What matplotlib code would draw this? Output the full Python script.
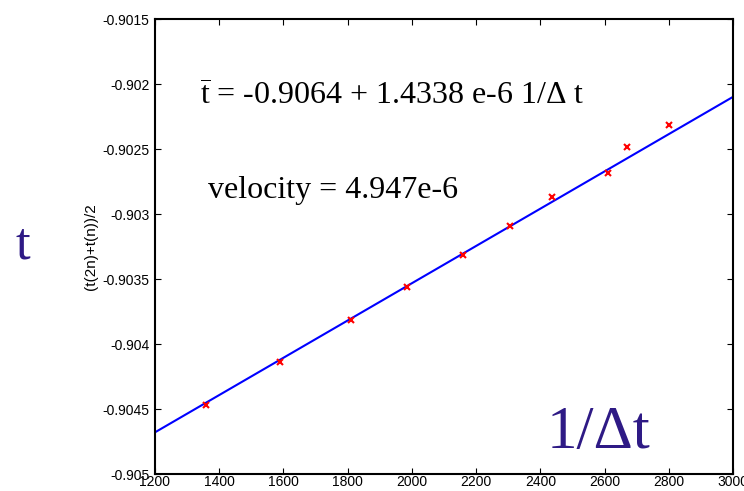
import numpy as np
import matplotlib
matplotlib.use('Agg')
from matplotlib import pyplot as plt

plt.rcParams['mathtext.fontset'] = 'custom'
plt.rcParams['mathtext.rm'] = 'Liberation Serif'
plt.rcParams['font.family'] = 'Liberation Sans'

# measured points (1/dt, mean time)
inv_dt = [1360, 1590, 1810, 1985, 2160, 2305, 2435, 2610, 2670, 2800]
t_mean = [-0.90447, -0.904138, -0.903815, -0.903562, -0.903315,
          -0.903092, -0.902869, -0.902685, -0.902485, -0.902315]

# fit line
intercept = -0.9064
slope = 1.4338e-6
x_fit = [1200, 3000]

purple = '#2e1a85'

fig = plt.figure(figsize=(7.44, 4.91), dpi=100)
ax = fig.add_axes([0.2083, 0.0346, 0.777, 0.9267])

xf = np.array(x_fit)
ax.plot(xf, intercept + slope * xf, color='blue', lw=1.5)
ax.plot(inv_dt, t_mean, 'x', color='red', ms=5, mew=1.5)

ax.set_xlim(1200, 3000)
ax.set_ylim(-0.905, -0.9015)
ax.set_xticks(np.arange(1200, 3001, 200))
ax.set_yticks(np.arange(-0.905, -0.90149, 0.0005))
ax.set_yticklabels(['-0.905', '-0.9045', '-0.904', '-0.9035', '-0.903',
                    '-0.9025', '-0.902', '-0.9015'])
ax.tick_params(direction='in', top=True, right=True, labelsize=10, length=4)
ax.tick_params(axis='x', pad=1)
ax.tick_params(axis='y', pad=4)
for s in ax.spines.values():
    s.set_linewidth(1.5)
ax.set_ylabel('(t(2n)+t(n))/2', fontsize=11, labelpad=3)

ax.text(0.078, 0.811, r'$\overline{\mathrm{t}}$ = -0.9064 + 1.4338 e-6 1/Δ t',
        transform=ax.transAxes, fontsize=23, family='Liberation Serif',
        va='baseline')
ax.text(0.092, 0.607, 'velocity = 4.947e-6', transform=ax.transAxes,
        fontsize=23, family='Liberation Serif', va='baseline')

fig.text(0.03, 0.5, 't', color=purple, fontsize=38, family='Liberation Serif',
         ha='center', va='center')
ax.text(0.678, 0.057, '1/Δt', transform=ax.transAxes, color=purple,
        fontsize=44, family='Liberation Serif', va='baseline')

plt.savefig('out.png', dpi=100)
